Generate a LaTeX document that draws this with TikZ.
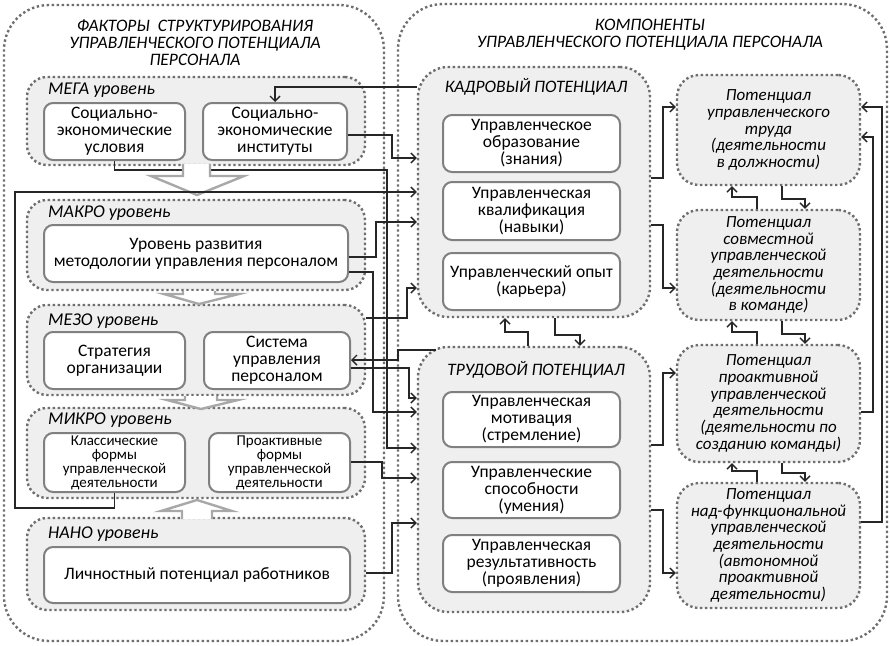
\documentclass[tikz,border=0pt]{standalone}
\usepackage{fontspec}
\setmainfont{Carlito}
\usetikzlibrary{arrows.meta}

\definecolor{dotc}{HTML}{6E6E6E}
\definecolor{levelfill}{HTML}{EFEFEF}
\definecolor{boxline}{HTML}{808080}
\definecolor{bigarrow}{HTML}{A8A8A8}
\definecolor{linec}{HTML}{262626}

\tikzset{
  dotborder/.style={draw=dotc, line width=2.4pt, dash pattern=on 2.4pt off 2.6pt},
  panel/.style={dotborder, fill=white, rounded corners=45pt, inner sep=0pt},
  level/.style={dotborder, fill=levelfill, rounded corners=20pt, inner sep=0pt},
  potbox/.style={dotborder, fill=levelfill, rounded corners=22pt, inner sep=0pt,
    align=center, font=\itshape\fontsize{17}{16.7}\selectfont},
  stepbox/.style={draw=boxline, line width=2pt, fill=white, rounded corners=9pt,
    inner sep=0pt, align=center, font=\fontsize{17.5}{17}\selectfont},
  tightbox/.style={stepbox, font=\fontsize{15}{14}\selectfont},
  levellabel/.style={anchor=west, inner sep=0pt, font=\itshape\fontsize{18}{18}\selectfont},
  heading/.style={inner sep=0pt, align=center, font=\itshape\fontsize{17.5}{17}\selectfont},
  conn/.style={draw=linec, line width=1.5pt,
    -{Straight Barb[length=5pt,width=10pt,line width=1.4pt]}},
  blockarrow/.style={draw=bigarrow, line width=2.4pt, fill=white, line join=miter}
}

\begin{document}
\begin{tikzpicture}[x=1pt, y=-1pt]
\useasboundingbox (0,0) rectangle (890,645);

% ---------- two main panels ----------
\node[panel, minimum width=380pt, minimum height=636pt] (left) at (194,323) {};
\node[panel, minimum width=489pt, minimum height=637pt] (right) at (642.5,322.5) {};

\node[heading] (lefttitle) at (195,43)
  {ФАКТОРЫ\ \ СТРУКТУРИРОВАНИЯ\\УПРАВЛЕНЧЕСКОГО ПОТЕНЦИАЛА\\ПЕРСОНАЛА};
\node[heading] (righttitle) at (650,35)
  {КОМПОНЕНТЫ\\УПРАВЛЕНЧЕСКОГО ПОТЕНЦИАЛА ПЕРСОНАЛА};

% ---------- levels ----------
\node[level, minimum width=338pt, minimum height=88pt] (mega)  at (196,121) {};
\node[level, minimum width=338pt, minimum height=90pt] (makro) at (196,245) {};
\node[level, minimum width=338pt, minimum height=90pt] (mezo)  at (196,350) {};
\node[level, minimum width=338pt, minimum height=90pt] (mikro) at (196,453) {};
\node[level, minimum width=338pt, minimum height=92pt] (nano)  at (196,564) {};

\node[levellabel] (megal)  at (48,90)  {МЕГА уровень};
\node[levellabel] (makrol) at (48,213) {МАКРО уровень};
\node[levellabel] (mezol)  at (48,321) {МЕЗО уровень};
\node[levellabel] (mikrol) at (48,420) {МИКРО уровень};
\node[levellabel] (nanol)  at (48,534) {НАНО уровень};

% ---------- factor boxes ----------
\node[stepbox, minimum width=141pt, minimum height=57pt] (usl)  at (114.5,131.5)
  {Социально-\\экономические\\условия};
\node[stepbox, minimum width=144pt, minimum height=57pt] (inst) at (275,131.5)
  {Социально-\\экономические\\институты};
\node[stepbox, minimum width=304pt, minimum height=57pt] (meth) at (196,253.5)
  {Уровень развития\\методологии управления персоналом};
\node[stepbox, minimum width=141pt, minimum height=57pt] (strat) at (114.5,360.5)
  {Стратегия\\организации};
\node[stepbox, minimum width=146pt, minimum height=57pt] (sys) at (277,360.5)
  {Система\\управления\\персоналом};
\node[tightbox, minimum width=141pt, minimum height=59pt] (clas) at (114.5,462.5)
  {Классические\\формы\\управленческой\\деятельности};
\node[tightbox, minimum width=141pt, minimum height=59pt] (proa) at (279.5,462.5)
  {Проактивные\\формы\\управленческой\\деятельности};
\node[stepbox, minimum width=306pt, minimum height=56pt] (lich) at (197,575)
  {Личностный потенциал работников};

% ---------- component panels ----------
\node[level, rounded corners=30pt, minimum width=232pt, minimum height=250pt] (kadr) at (534,192) {};
\node[level, rounded corners=30pt, minimum width=232pt, minimum height=265pt] (trud) at (534,479.5) {};
\node[heading] (kadrl) at (536,87)  {КАДРОВЫЙ ПОТЕНЦИАЛ};
\node[heading] (trudl) at (536,370) {ТРУДОВОЙ ПОТЕНЦИАЛ};

\node[stepbox, minimum width=177pt, minimum height=57pt] (obr)  at (531.5,143.5)
  {Управленческое\\образование\\(знания)};
\node[stepbox, minimum width=177pt, minimum height=58pt] (kval) at (531.5,211)
  {Управленческая\\квалификация\\(навыки)};
\node[stepbox, minimum width=177pt, minimum height=57pt] (opyt) at (531.5,281.5)
  {Управленческий опыт\\(карьера)};
\node[stepbox, minimum width=177pt, minimum height=55pt] (motiv) at (531.5,419.5)
  {Управленческая\\мотивация\\(стремление)};
\node[stepbox, minimum width=177pt, minimum height=56pt] (spos) at (531.5,490)
  {Управленческие\\способности\\(умения)};
\node[stepbox, minimum width=177pt, minimum height=57pt] (rez) at (531.5,563.5)
  {Управленческая\\результативность\\(проявления)};

% ---------- potential boxes ----------
\node[potbox, minimum width=183pt, minimum height=110pt] (p1) at (768.5,130)
  {Потенциал\\управленческого\\труда\\(деятельности\\в должности)};
\node[potbox, minimum width=183pt, minimum height=110pt] (p2) at (768.5,265)
  {Потенциал\\совместной\\управленческой\\деятельности\\(деятельности\\в команде)};
\node[potbox, minimum width=183pt, minimum height=117pt] (p3) at (768.5,403.5)
  {Потенциал\\проактивной\\управленческой\\деятельности\\(деятельности по\\созданию команды)};
\node[potbox, minimum width=183pt, minimum height=125pt] (p4) at (768.5,545.5)
  {Потенциал\\над-функциональной\\управленческой\\деятельности\\(автономной\\проактивной\\деятельности)};

% ---------- connectors between factors and components ----------
% this one runs under the first block arrow
\draw[conn] (usl.south) -- (usl.south |- 0,170) -- (387,170) -- (387,448) -- (trud.west |- 0,448);

% ---------- block arrows between levels ----------
\draw[blockarrow] (183,164) -- (183,176) -- (151,176) -- (197,195) -- (244,176) -- (210,176) -- (210,164);
\draw[blockarrow] (183,291) -- (183,294) -- (164,294) -- (199,304) -- (239,294) -- (215,294) -- (215,291);
\draw[blockarrow] (185,396) -- (185,400) -- (167,400) -- (201,409) -- (238,400) -- (217,400) -- (217,396);
\draw[blockarrow] (182,519) -- (182,511) -- (161,511) -- (197,500) -- (232,511) -- (212,511) -- (212,519);

% remaining connectors
\draw[conn] (kadr.west |- 0,87) -- (inst.north |- 0,87) -- (inst.north);
\draw[conn] (inst.east |- 0,135) -- (392,135) -- (392,158) -- (kadr.west |- 0,158);
\draw[conn] (clas.south) -- (clas.south |- 0,508) -- (15,508) -- (15,192) -- (kadr.west |- 0,192);
\draw[conn] (meth.east |- 0,257) -- (376,257) -- (376,222) -- (kadr.west |- 0,222);
\draw[conn] (meth.east |- 0,272) -- (373,272) -- (373,412) -- (trud.west |- 0,412);
\draw[conn] (mezo.east |- 0,318) -- (407,318) -- (407,288) -- (kadr.west |- 0,288);
\coordinate (trudcorner) at (436,350);
\draw[conn] (trudcorner) -- (398,350) -- (398,360) -- (sys.east |- 0,360);
\draw[conn] (sys.east |- 0,368) -- (409,368) -- (409,398) -- (trud.west |- 0,398);
\draw[conn] (proa.east |- 0,462) -- (382,462) -- (382,478) -- (trud.west |- 0,478);
\draw[conn] (nano.east |- 0,573) -- (392,573) -- (392,523) -- (trud.west |- 0,523);

% ---------- links between the two component panels ----------
\draw[conn] (trud.north -| 528,0) -- (528,332) -- (505,332) -- (kadr.south -| 505,0);
\draw[conn] (kadr.south -| 555,0) -- (555,335) -- (580,335) -- (trud.north -| 580,0);

% ---------- components to potentials ----------
\draw[conn] (kadr.east |- 0,178) -- (663,178) -- (663,107) -- (p1.west |- 0,107);
\draw[conn] (kadr.east |- 0,225) -- (663,225) -- (663,288) -- (p2.west |- 0,288);
\draw[conn] (trud.east |- 0,445) -- (663,445) -- (663,373) -- (p3.west |- 0,373);
\draw[conn] (trud.east |- 0,510) -- (663,510) -- (663,573) -- (p4.west |- 0,573);

% ---------- links between potentials ----------
\draw[conn] (p2.north -| 757,0) -- (757,197) -- (732,197) -- (p1.south -| 732,0);
\draw[conn] (p1.south -| 782,0) -- (782,199) -- (805,199) -- (p2.north -| 805,0);
\draw[conn] (p3.north -| 757,0) -- (757,332) -- (732,332) -- (p2.south -| 732,0);
\draw[conn] (p2.south -| 782,0) -- (782,334) -- (805,334) -- (p3.north -| 805,0);
\draw[conn] (p4.north -| 757,0) -- (757,471) -- (732,471) -- (p3.south -| 732,0);
\draw[conn] (p3.south -| 782,0) -- (782,473) -- (805,473) -- (p4.north -| 805,0);

% ---------- feedback to the first potential ----------
\draw[conn] (p3.east |- 0,412) -- (873,412) -- (873,137) -- (p1.east |- 0,137);
\draw[conn] (p4.east |- 0,522) -- (882,522) -- (882,107) -- (p1.east |- 0,107);

\end{tikzpicture}
\end{document}
